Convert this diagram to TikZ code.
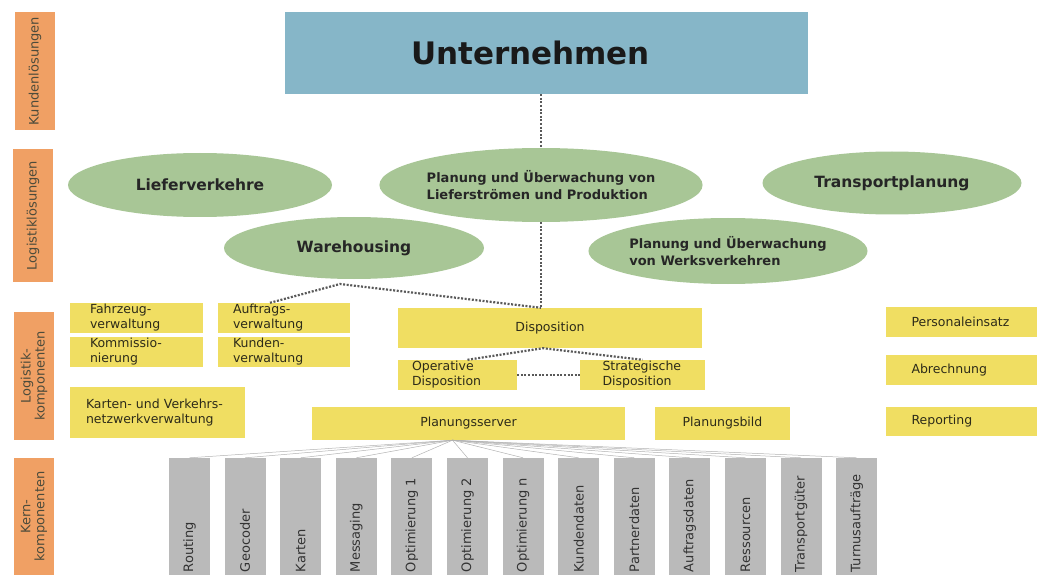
\documentclass[tikz,border=0pt]{standalone}
\usepackage{fontspec}
\setmainfont{DejaVu Sans}
\usetikzlibrary{shapes.geometric}

\definecolor{sideorange}{RGB}{240,160,100}
\definecolor{topblue}{RGB}{134,182,200}
\definecolor{solgreen}{RGB}{168,198,150}
\definecolor{compyellow}{RGB}{240,222,98}
\definecolor{kerngray}{RGB}{186,186,186}
\definecolor{txtdark}{RGB}{45,43,25}

\begin{document}
\begin{tikzpicture}[x=1pt, y=-1pt,
  side/.style={rectangle, fill=sideorange, rotate=90, inner sep=0pt, minimum height=40, align=center, text=txtdark!85, font=\fontsize{13}{14}\selectfont},
  sol/.style={ellipse, fill=solgreen, inner sep=0pt, align=left, text=black!85, font=\bfseries\fontsize{13}{17}\selectfont},
  bigsol/.style={sol, font=\bfseries\fontsize{15.5}{18}\selectfont},
  comp/.style={rectangle, fill=compyellow, inner sep=0pt, align=left, text=txtdark, font=\fontsize{12.5}{15}\selectfont},
  kern/.style={rectangle, fill=kerngray, rotate=90, inner sep=0pt, minimum width=117, minimum height=41, text width=111, align=left, text=black!80, font=\fontsize{13}{15}\selectfont},
  link/.style={line width=2.2pt, dash pattern=on 2pt off 1.6pt, black!65},
  fan/.style={black!30, line width=0.5pt}
]
  \useasboundingbox (0,0) rectangle (1037,575);

  % layer labels on the left
  \node[side, minimum width=118] (kunden) at (35,71) {Kundenlösungen};
  \node[side, minimum width=133] (logloes) at (33,215.5) {Logistiklösungen};
  \node[side, minimum width=128] (logkomp) at (34,376) {Logistik-\\komponenten};
  \node[side, minimum width=117] (kernkomp) at (34,516.5) {Kern-\\komponenten};

  % customer solution
  \node[rectangle, fill=topblue, minimum width=523, minimum height=82, text width=270, align=left, text=black!90, font=\bfseries\fontsize{31}{34}\selectfont] (unt) at (546,53) {Unternehmen};

  % logistics solutions
  \node[bigsol, minimum width=264, minimum height=64] (lieferverk) at (200,185) {Lieferverkehre};
  \node[sol, minimum width=267, minimum height=74] (lieferplan) at (541,185) {Planung und Überwachung von\\Lieferströmen und Produktion};
  \node[bigsol, minimum width=259, minimum height=63] (transport) at (892,183) {Transportplanung};
  \node[bigsol, minimum width=260, minimum height=62] (warehouse) at (354,248) {Warehousing};
  \node[sol, minimum width=260, minimum height=66] (werks) at (728,251) {Planung und Überwachung\\von Werksverkehren};

  % logistics components
  \node[comp, minimum width=133, minimum height=30, text width=93] (fahrzeug) at (136.5,318) {Fahrzeug-\\verwaltung};
  \node[comp, minimum width=133, minimum height=30, text width=93] (kommission) at (136.5,352) {Kommissio-\\nierung};
  \node[comp, minimum width=132, minimum height=30, text width=102] (auftrag) at (284,318) {Auftrags-\\verwaltung};
  \node[comp, minimum width=132, minimum height=30, text width=102] (kundenverw) at (284,352) {Kunden-\\verwaltung};
  \node[comp, minimum width=175, minimum height=51, text width=143] (karten) at (157.5,412.5) {Karten- und Verkehrs-\\netzwerkverwaltung};
  \node[comp, minimum width=304, minimum height=40, align=center] (dispo) at (550,328) {Disposition};
  \node[comp, minimum width=119, minimum height=30, text width=91] (opdispo) at (457.5,375) {Operative\\Disposition};
  \node[comp, minimum width=125, minimum height=30, text width=80] (stdispo) at (642.5,375) {Strategische\\Disposition};
  \node[comp, minimum width=313, minimum height=33, align=center] (planserver) at (468.5,423.5) {Planungsserver};
  \node[comp, minimum width=135, minimum height=33, align=center] (planbild) at (722.5,423.5) {Planungsbild};
  \node[comp, minimum width=151, minimum height=30, text width=100] (personal) at (961.5,322) {Personaleinsatz};
  \node[comp, minimum width=151, minimum height=30, text width=100] (abrechnung) at (961.5,370) {Abrechnung};
  \node[comp, minimum width=151, minimum height=29, text width=100] (reporting) at (961.5,421) {Reporting};

  % dotted links
  \coordinate (knick) at (340,284);
  \draw[link] (unt.south -| lieferplan.north) -- (lieferplan.north);
  \draw[link] (lieferplan.south) -- (lieferplan.south |- dispo.north);
  \draw[link] ([xshift=-14]auftrag.north) -- (knick) -- (lieferplan.south |- dispo.north);
  \draw[link] ([xshift=10]opdispo.north) -- ([xshift=-7]dispo.south) -- (stdispo.north);
  \draw[link] (opdispo.east) -- (stdispo.west);

  % core components
  \coordinate (fanroot) at ([xshift=-16]planserver.south);
  \foreach \i/\kname in {0/Routing, 1/Geocoder, 2/Karten, 3/Messaging, 4/Optimierung 1, 5/Optimierung 2, 6/Optimierung n, 7/Kundendaten, 8/Partnerdaten, 9/Auftragsdaten, 10/Ressourcen, 11/Transportgüter, 12/Turnusaufträge} {
    \node[kern] (kern\i) at ({189.5+55.6*\i},516.5) {\kname};
    \draw[fan] (fanroot) -- (kern\i.east);
  }
\end{tikzpicture}
\end{document}
